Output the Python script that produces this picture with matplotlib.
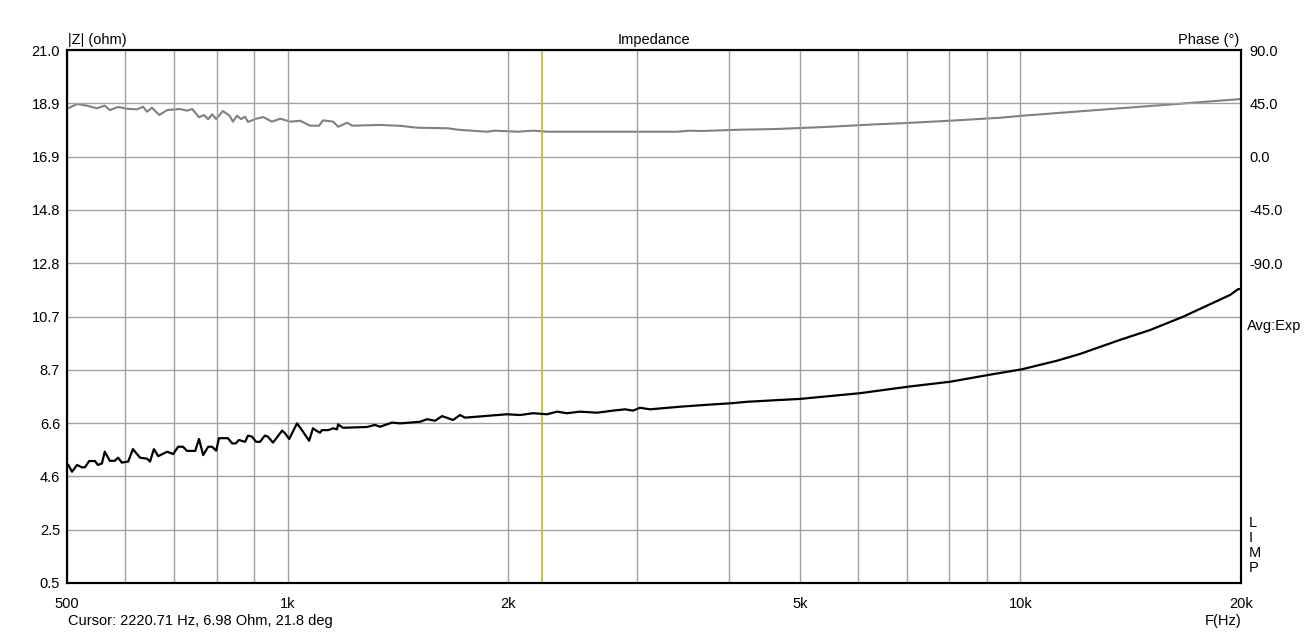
import matplotlib
matplotlib.use("Agg")
import matplotlib.pyplot as plt
import numpy as np

plt.rcParams['font.family'] = ['Liberation Sans', 'DejaVu Sans']

# Impedance magnitude (ohm) vs frequency (Hz)
z_freq = [502, 508, 516, 524, 529, 536, 546, 551, 558, 563, 572, 581, 587, 594, 606,
          615, 629, 643, 649, 657, 666, 685, 698, 709, 720, 729, 748, 757, 767, 779,
          789, 799, 806, 829, 840, 850, 858, 875, 883, 894, 906, 917, 931, 940, 955,
          983, 992, 1005, 1030, 1046, 1070, 1083, 1094, 1107, 1114, 1136, 1154, 1168,
          1172, 1190, 1283, 1316, 1337, 1388, 1424, 1516, 1550, 1589, 1625, 1666, 1682,
          1719, 1746, 1993, 2076, 2162, 2260, 2332, 2406, 2506, 2644, 2780, 2887, 2960,
          3026, 3123, 3431, 3807, 4016, 4236, 4699, 5003, 6040, 7024, 8016, 9035, 10050,
          11220, 12060, 12840, 13675, 15030, 16670, 19330, 19815, 20000]
z_ohm = [5.04, 4.78, 5.04, 4.95, 4.95, 5.19, 5.19, 5.04, 5.10, 5.55, 5.20, 5.20, 5.32,
         5.13, 5.17, 5.65, 5.32, 5.28, 5.17, 5.65, 5.38, 5.55, 5.46, 5.74, 5.74, 5.58,
         5.58, 6.04, 5.42, 5.74, 5.74, 5.59, 6.07, 6.07, 5.87, 5.87, 6.00, 5.93, 6.17,
         6.13, 5.93, 5.93, 6.17, 6.13, 5.90, 6.36, 6.26, 6.04, 6.64, 6.38, 5.97, 6.45,
         6.36, 6.28, 6.38, 6.38, 6.45, 6.41, 6.60, 6.47, 6.50, 6.58, 6.51, 6.67, 6.64,
         6.70, 6.80, 6.74, 6.92, 6.81, 6.77, 6.96, 6.86, 6.99, 6.96, 7.03, 6.99, 7.09,
         7.03, 7.09, 7.05, 7.13, 7.18, 7.13, 7.24, 7.18, 7.28, 7.37, 7.41, 7.47, 7.54,
         7.58, 7.80, 8.05, 8.24, 8.50, 8.72, 9.05, 9.31, 9.58, 9.85, 10.23, 10.74,
         11.58, 11.80, 11.81]

# Phase (deg) vs frequency (Hz)
p_freq = [502, 516, 532, 549, 563, 572, 587, 604, 623, 635, 643, 653, 668, 685, 713,
          729, 741, 757, 769, 779, 789, 799, 816, 834, 842, 853, 864, 875, 883, 903,
          926, 952, 977, 1008, 1040, 1073, 1104, 1118, 1154, 1172, 1206, 1225, 1337,
          1424, 1502, 1656, 1708, 1871, 1919, 2063, 2162, 2267, 3399, 3541, 3654, 4143,
          4655, 5498, 6373, 6851, 8016, 9380, 10050, 12840, 16005, 20000]
p_deg = [40.8, 44.4, 43.0, 40.8, 43.0, 39.3, 41.9, 40.4, 39.9, 42.1, 37.9, 41.3, 35.1,
         39.3, 40.2, 38.8, 40.2, 33.2, 35.1, 31.5, 35.7, 31.7, 38.5, 34.3, 29.5, 34.5,
         31.7, 33.7, 29.2, 31.7, 33.4, 29.5, 32.0, 29.5, 30.3, 26.1, 26.1, 30.6, 29.5,
         25.2, 28.6, 26.1, 26.7, 26.0, 24.4, 23.9, 22.7, 21.0, 21.9, 21.0, 21.9, 21.0,
         21.0, 21.9, 21.6, 22.7, 23.3, 25.2, 27.3, 28.1, 30.3, 32.8, 34.5, 39.5, 44.0,
         48.6]

cursor_freq = 2220.71

x_grid = [500, 600, 700, 800, 900, 1000, 2000, 3000, 4000, 5000, 6000, 7000, 8000,
          9000, 10000, 20000]
x_labels = {500: '500', 1000: '1k', 2000: '2k', 5000: '5k', 10000: '10k', 20000: '20k'}
z_ticks = [0.5, 2.55, 4.6, 6.65, 8.7, 10.75, 12.8, 14.85, 16.9, 18.95, 21.0]
z_tick_labels = ['0.5', '2.5', '4.6', '6.6', '8.7', '10.7', '12.8', '14.8', '16.9', '18.9', '21.0']
p_ticks = [90, 45, 0, -45, -90]
p_tick_labels = ['90.0', '45.0', '0.0', '-45.0', '-90.0']

W, H = 1310, 633
fig = plt.figure(figsize=(W / 100, H / 100), dpi=100)
L, R, T, B = 67, 1241, 50, 583
ax = fig.add_axes([L / W, (H - B) / H, (R - L) / W, (B - T) / H])
ax2 = ax.twinx()

ax.set_xscale('log')
ax.set_xlim(500, 20000)
ax.set_ylim(0.5, 21.0)
ax2.set_ylim(-360, 90)

ax.set_xticks(x_grid)
ax.set_xticklabels([x_labels.get(f, '') for f in x_grid])
ax.xaxis.set_minor_locator(matplotlib.ticker.NullLocator())
ax.set_yticks(z_ticks)
ax.set_yticklabels(z_tick_labels)
ax2.set_yticks(p_ticks)
ax2.set_yticklabels(p_tick_labels)

ax.grid(True, color='#a0a0a0', linewidth=1.0)
ax.set_axisbelow(True)
ax.tick_params(axis='both', length=0, labelsize=10.5, colors='black')
ax.tick_params(axis='x', pad=10)
ax.tick_params(axis='y', pad=5)
ax2.tick_params(axis='y', length=0, labelsize=10.5, pad=6)

for a in (ax, ax2):
    for s in a.spines.values():
        s.set_linewidth(1.5)
        s.set_color('black')

ax.axvline(cursor_freq, color='#bcbc1c', linewidth=1.2, zorder=2)
ax2.plot(p_freq, p_deg, color='#808080', linewidth=1.5, zorder=3)
ax.plot(z_freq, z_ohm, color='black', linewidth=1.6, zorder=4)
ax.set_zorder(ax2.get_zorder() + 1)
ax.patch.set_visible(False)

def px(x, y):
    return x / W, 1 - y / H

fs = 10.5
fig.text(*px(68, 40), '|Z| (ohm)', fontsize=fs, ha='left', va='center')
fig.text(*px(654, 40), 'Impedance', fontsize=fs, ha='center', va='center')
fig.text(*px(1239, 40), 'Phase (°)', fontsize=fs, ha='right', va='center')
fig.text(*px(1247, 326), 'Avg:Exp', fontsize=fs, ha='left', va='center')
for i, ch in enumerate('LIMP'):
    fig.text(*px(1249, 523 + 15 * i), ch, fontsize=fs, ha='left', va='center')
fig.text(*px(68, 621), 'Cursor: 2220.71 Hz, 6.98 Ohm, 21.8 deg', fontsize=fs,
         ha='left', va='center')
fig.text(*px(1242, 621), 'F(Hz)', fontsize=fs, ha='right', va='center')

fig.savefig('out.png', dpi=100)
